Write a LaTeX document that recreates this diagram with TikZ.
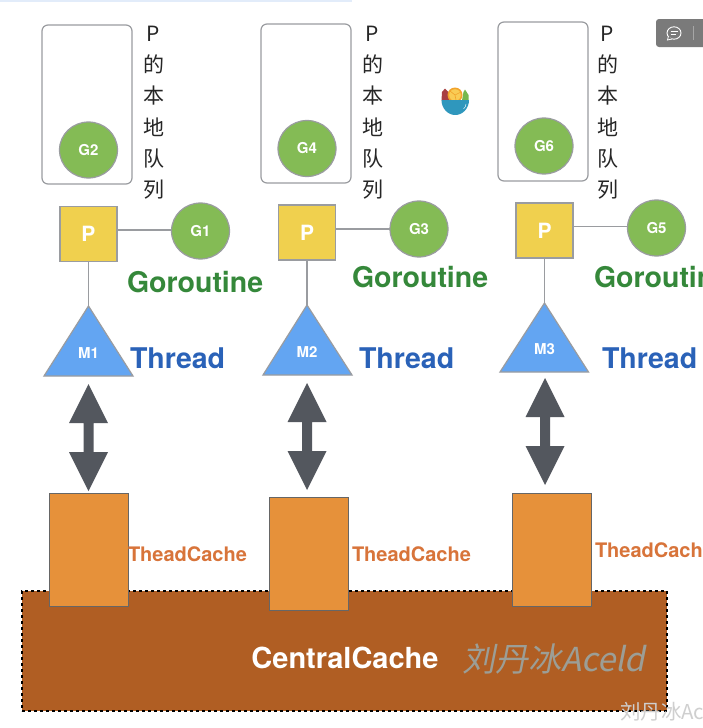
\documentclass[tikz,border=0pt]{standalone}
\usepackage{fontspec}
\setmainfont{TeX Gyre Heros}
\newfontfamily\cjk{Noto Sans CJK SC}
\newfontfamily\wmfont[FakeSlant=0.2]{Noto Sans CJK SC}
\usetikzlibrary{shapes.geometric}
\definecolor{edgegray}{HTML}{9A9CA0}
\definecolor{ggreen}{HTML}{84BB55}
\definecolor{pyellow}{HTML}{F0D04E}
\definecolor{mblue}{HTML}{63A5F2}
\definecolor{arrowgray}{HTML}{53575E}
\definecolor{cacheorange}{HTML}{E6913A}
\definecolor{centralbrown}{HTML}{B05E23}
\definecolor{gotext}{HTML}{35883A}
\definecolor{thtext}{HTML}{2A62B8}
\definecolor{tctext}{HTML}{D8743A}
\definecolor{wmgray}{HTML}{9C9E96}
\definecolor{wmlight}{HTML}{CFCFCF}
\definecolor{btngray}{HTML}{7A7A7A}
\definecolor{topstrip}{HTML}{E2ECFA}
\definecolor{logobowl}{HTML}{2F97BD}
\definecolor{logored}{HTML}{A83E42}
\definecolor{logoleaf}{HTML}{74B84E}
\definecolor{logorind}{HTML}{F2A32B}
\definecolor{logoflesh}{HTML}{F9CC55}
\tikzset{
  x=1pt,y=-1pt,
  every node/.style={inner sep=0,outer sep=0},
  queuebox/.style={draw=edgegray,line width=1.2pt,rounded corners=6pt,fill=white},
  gnode/.style={ellipse,draw=edgegray,line width=1.2pt,fill=ggreen,minimum width=58pt,minimum height=56pt,text=white,font=\fontsize{15}{15}\selectfont\bfseries},
  pnode/.style={rectangle,draw=edgegray,line width=1.2pt,fill=pyellow,minimum width=57pt,minimum height=55pt,text=white,font=\fontsize{21}{21}\selectfont\bfseries},
  link/.style={draw=edgegray,line width=1.2pt},
  mtri/.style={draw=edgegray,line width=1.2pt,fill=mblue},
  mlabel/.style={text=white,font=\fontsize{15}{15}\selectfont\bfseries},
  dblarrow/.style={fill=arrowgray,draw=none},
  cachebox/.style={rectangle,draw=black!60,line width=0.8pt,fill=cacheorange,minimum width=79.5pt,minimum height=113pt},
  qtext/.style={font=\fontsize{21}{21}\cjk,text=black!85},
  gotxt/.style={anchor=west,text=gotext,font=\fontsize{28.5}{28}\selectfont\bfseries},
  thtxt/.style={anchor=west,text=thtext,font=\fontsize{28.5}{28}\selectfont\bfseries},
  tctxt/.style={anchor=west,text=tctext,font=\fontsize{20}{20}\selectfont\bfseries},
}
\newcommand{\queuelabel}[2]{%
  \node[qtext] at (#1+0.5,#2+0) {P};
  \node[qtext] at (#1+0.5,#2+30.5) {的};
  \node[qtext] at (#1+0.5,#2+61.5) {本};
  \node[qtext] at (#1+0.5,#2+93) {地};
  \node[qtext] at (#1+0.5,#2+124.5) {队};
  \node[qtext] at (#1+0.5,#2+155.5) {列};
}
\newcommand{\twoway}[3]{% x, top, bottom
  \fill[dblarrow] (#1,#2) -- (#1+19.5,#2+39) -- (#1+5,#2+39) -- (#1+5,#3-39) -- (#1+19.5,#3-39)
    -- (#1,#3) -- (#1-19.5,#3-39) -- (#1-5,#3-39) -- (#1-5,#2+39) -- (#1-19.5,#2+39) -- cycle;
}
\begin{document}
\begin{tikzpicture}
\useasboundingbox (0,0) rectangle (703,728);
\clip (0,0) rectangle (703,728);
\fill[white] (0,0) rectangle (703,728);
\fill[topstrip] (0,0) rectangle (352,2);

% central cache
\node[rectangle,draw=black,dashed,line width=1.2pt,fill=centralbrown,minimum width=645pt,minimum height=120pt] (central) at (344.5,651) {};
\node[text=white,font=\fontsize{29}{29}\selectfont\bfseries] (centraltext) at (345,658) {CentralCache};
\node[anchor=west,text=wmgray,font=\fontsize{33}{33}\wmfont] (wm) at (462,659) {刘丹冰Aceld};
\node[anchor=west,text=wmlight,font=\fontsize{20.5}{20}\cjk] (wmb) at (620,712) {刘丹冰Aceld};

% column 1
\draw[queuebox] (42,25) rectangle (132,184);
\node[gnode] (g2) at (88.5,150) {G2};
\queuelabel{153}{34}
\node[pnode] (p1) at (88.5,234) {P};
\node[gnode] (g1) at (200.5,231) {G1};
\draw[link] (p1.east |- 0,230) -- (g1.west |- 0,230);
\coordinate (m1top) at (88.5,306);
\draw[link] (p1.south) -- (m1top);
\draw[mtri] (m1top) -- (133,376) -- (44,376) -- cycle;
\node[mlabel] (m1) at (88.5,353) {M1};
\node[gotxt] (go1) at (127,282) {Goroutine};
\node[thtxt] (th1) at (130,358) {Thread};
\twoway{88.5}{384}{491}
\node[cachebox] (c1) at (88.75,549.5) {};
\node[tctxt] (tc1) at (128,554) {TheadCache};

% column 2
\draw[queuebox] (261,24) rectangle (351,183);
\node[gnode] (g4) at (307,148.5) {G4};
\queuelabel{372}{34}
\node[pnode] (p2) at (307,232.5) {P};
\node[gnode] (g3) at (419,229) {G3};
\draw[link] (p2.east |- 0,229) -- (g3.west |- 0,229);
\coordinate (m2top) at (307,305);
\draw[link] (p2.south) -- (m2top);
\draw[mtri] (m2top) -- (352,375) -- (263,375) -- cycle;
\node[mlabel] (m2) at (307,352) {M2};
\node[gotxt] (go2) at (352,277) {Goroutine};
\node[thtxt] (th2) at (359,358) {Thread};
\twoway{307}{383}{490}
\node[cachebox] (c2) at (308.75,553.5) {};
\node[tctxt] (tc2) at (352,554) {TheadCache};

% column 3
\draw[queuebox] (498,22) rectangle (588,181);
\node[gnode] (g6) at (544,146) {G6};
\queuelabel{607}{34}
\node[pnode] (p3) at (544.5,230.5) {P};
\node[gnode] (g5) at (656.5,228) {G5};
\draw[link] (p3.east |- 0,226.5) -- (g5.west |- 0,226.5);
\coordinate (m3top) at (544.5,303);
\draw[link] (p3.south) -- (m3top);
\draw[mtri] (m3top) -- (588.5,372) -- (500,372) -- cycle;
\node[mlabel] (m3) at (544.5,349) {M3};
\node[gotxt] (go3) at (594,277) {Goroutine};
\node[thtxt] (th3) at (602,358) {Thread};
\twoway{545}{378}{485}
\node[cachebox] (c3) at (551.75,549.5) {};
\node[tctxt] (tc3) at (595,550) {TheadCache};

% floating logo
\fill[logored] (441.5,100.5) -- (442,92) -- (445,88.5) -- (456,100.5) -- cycle;
\fill[logoleaf] (462,100.5) -- (463.5,92) -- (465,89.5) -- (468.5,95) -- (468.5,100.5) -- cycle;
\fill[logorind] (455,95) circle (7.5pt);
\fill[logoflesh] (455,95) circle (5.8pt);
\draw[logorind,line width=0.6pt] (455,95) -- (450,91) (455,95) -- (461,92) (455,95) -- (456,100);
\fill[logobowl] (441.5,100) -- (469,100) arc[start angle=0,end angle=-180,x radius=13.75pt,y radius=15pt] -- cycle;
\fill[white] (441,114.5) rectangle (470,117);
\draw[white,line width=0.4pt] (466,104) arc[start angle=0,end angle=-55,radius=6pt];

% comment button
\fill[btngray,rounded corners=3pt] (656,19) rectangle (712,47);
\draw[white,line width=0.9pt] (674,33) ellipse[x radius=7pt,y radius=6.2pt];
\draw[white,line width=0.8pt] (670.5,31.5) -- (677.5,31.5) (670.5,34.5) -- (675.5,34.5);
\draw[white,fill=btngray,line width=0.8pt] (668.5,36) -- (667.5,40) -- (672,39);
\draw[black!35,line width=0.7pt] (693,26) -- (693,40);
\end{tikzpicture}
\end{document}
